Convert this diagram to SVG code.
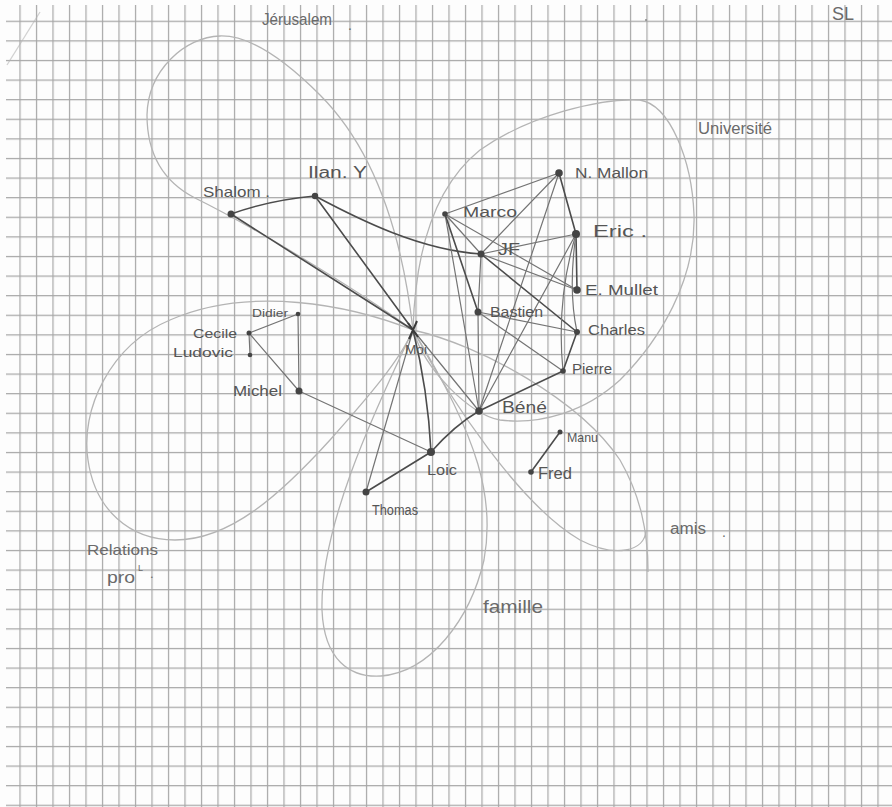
<svg xmlns="http://www.w3.org/2000/svg" width="892" height="807" viewBox="0 0 892 807">
<defs>
<pattern id="grid" patternUnits="userSpaceOnUse" x="2.9" y="1.1" width="16.5" height="19.6">
<path d="M0.6,0 V19.6 M0,0.6 H16.5" fill="none" stroke="#a6a6a6" stroke-width="1.2"/>
</pattern>
<style>
.loop{fill:none;stroke:#b4b4b4;stroke-width:1.3}
.e{fill:none;stroke:#4c4c4c;stroke-width:1.6;stroke-linecap:round}
.e2{fill:none;stroke:#747474;stroke-width:1.2;stroke-linecap:round}
.dot{fill:#444}
.t{font-family:"Liberation Sans","DejaVu Sans",sans-serif;fill:#555;font-weight:normal}
.g{font-family:"Liberation Sans","DejaVu Sans",sans-serif;fill:#6a6a6a}
</style>
</defs>
<rect width="892" height="807" fill="#fdfdfd"/>
<rect x="6" y="5" width="886" height="802" fill="url(#grid)"/>

<g id="groups">
<path class="loop" d="M413,330 C405,260 385,160 320,95 C285,60 250,35 220,36 C185,37 148,70 147,115 C147,150 160,180 195,198 C250,225 350,285 413,330"/>
<path class="loop" d="M413,330 C415,260 430,190 480,150 C530,115 600,98 640,100 C670,105 692,160 694,215 C696,280 660,340 620,380 C585,412 540,425 500,420 C470,415 425,370 413,330"/>
<path class="loop" d="M413,330 C480,345 580,400 620,460 C640,495 648,530 648,572"/>
<path class="loop" d="M413,330 C450,400 520,505 580,540 C615,558 645,552 646,530"/>
<path class="loop" d="M413,330 C370,420 320,530 322,610 C324,660 350,678 381,676 C430,672 470,620 484,560 C495,500 480,440 413,330"/>
<path class="loop" d="M413,330 C350,305 250,285 170,320 C110,345 80,410 88,460 C95,510 130,540 175,540 C230,540 280,495 330,440 C370,395 400,360 413,330"/>
<path class="loop" d="M7,65 L40,12" stroke-opacity="0.6"/>
</g>

<g id="connectors">
<path class="e" d="M231,214 Q270,200 315,196"/>
<path class="e" d="M231,214 L413,330"/>
<path class="e" d="M315,196 L413,330"/>
<path class="e" d="M315,196 C360,220 420,250 481,254"/>
<path class="e" d="M413,330 Q428,390 431,452"/>
<path class="e2" d="M413,330 L366,492"/>
<path class="e2" d="M413,330 L479,411"/>
<path class="e" d="M431,452 L366,492"/>
<path class="e" d="M431,452 Q455,425 479,411"/>
<path class="e2" d="M299,391 L431,452"/>
<path class="e2" d="M249,333 L298,314"/>
<path class="e2" d="M249,333 L299,391"/>
<path class="e2" d="M298,314 L299,391"/>
<path class="e2" d="M249,333 L250,355"/>
<path class="e" d="M479,411 L563,371"/>
<path class="e2" d="M478,312 L479,411"/>
<path class="e2" d="M481,254 L478,312"/>
<path class="e2" d="M445,214 L479,411"/>
<path class="e" d="M445,214 L478,312"/>
<path class="e2" d="M445,214 L481,254"/>
<path class="e2" d="M445,214 L559,173"/>
<path class="e2" d="M445,214 L577,290"/>
<path class="e2" d="M481,254 L559,173"/>
<path class="e2" d="M481,254 L576,234"/>
<path class="e2" d="M481,254 L577,290"/>
<path class="e" d="M481,254 L577,332"/>
<path class="e" d="M559,173 L576,234"/>
<path class="e2" d="M559,173 L479,411"/>
<path class="e2" d="M576,234 L479,411"/>
<path class="e" d="M576,234 L577,290"/>
<path class="e2" d="M576,234 Q568,290 577,332"/>
<path class="e2" d="M576,234 Q556,300 563,371"/>
<path class="e" d="M577,332 L563,371"/>
<path class="e2" d="M478,312 L577,332"/>
<path class="e2" d="M478,312 L563,371"/>
<path class="e" d="M560,432 L531,472"/>
</g>

<g id="moi"><path d="M408,323 L418,337 M417,321 L409,339" fill="none" stroke="#3a3a3a" stroke-width="2"/><text class="t" x="405" y="354" font-size="13" textLength="22" lengthAdjust="spacingAndGlyphs">Moi</text></g>
<g id="shalom"><circle class="dot" cx="231" cy="214" r="3.5"/><text class="t" x="203" y="197" font-size="15" textLength="67" lengthAdjust="spacingAndGlyphs">Shalom .</text></g>
<g id="ilan"><circle class="dot" cx="315" cy="196" r="3.2"/><text class="t" x="308" y="178" font-size="16" textLength="59" lengthAdjust="spacingAndGlyphs">Ilan. Y</text></g>
<g id="didier"><circle class="dot" cx="298" cy="314" r="2.3"/><text class="t" x="252" y="317" font-size="11" textLength="36" lengthAdjust="spacingAndGlyphs">Didier</text></g>
<g id="cecile"><circle class="dot" cx="249" cy="333" r="2.5"/><text class="t" x="193" y="338" font-size="13" textLength="44" lengthAdjust="spacingAndGlyphs">Cecile</text></g>
<g id="ludovic"><circle class="dot" cx="250" cy="355" r="2.3"/><text class="t" x="173" y="357" font-size="13" textLength="60" lengthAdjust="spacingAndGlyphs">Ludovic</text></g>
<g id="michel"><circle class="dot" cx="299" cy="391" r="3.5"/><text class="t" x="233" y="396" font-size="14" textLength="49" lengthAdjust="spacingAndGlyphs">Michel</text></g>
<g id="loic"><circle class="dot" cx="431" cy="452" r="4"/><text class="t" x="427" y="475" font-size="14" textLength="30" lengthAdjust="spacingAndGlyphs">Loic</text></g>
<g id="thomas"><circle class="dot" cx="366" cy="492" r="3.5"/><text class="t" x="372" y="515" font-size="14" textLength="46" lengthAdjust="spacingAndGlyphs">Thomas</text></g>
<g id="bene"><circle class="dot" cx="479" cy="411" r="3.8"/><text class="t" x="502" y="413" font-size="16" textLength="45" lengthAdjust="spacingAndGlyphs">Béné</text></g>
<g id="manu"><circle class="dot" cx="560" cy="432" r="2.5"/><text class="t" x="567" y="442" font-size="12" textLength="31" lengthAdjust="spacingAndGlyphs">Manu</text></g>
<g id="fred"><circle class="dot" cx="531" cy="472" r="2.8"/><text class="t" x="538" y="479" font-size="17" textLength="34" lengthAdjust="spacingAndGlyphs">Fred</text></g>
<g id="pierre"><circle class="dot" cx="563" cy="371" r="2.8"/><text class="t" x="572" y="374" font-size="15" textLength="40" lengthAdjust="spacingAndGlyphs">Pierre</text></g>
<g id="charles"><circle class="dot" cx="577" cy="332" r="3"/><text class="t" x="588" y="335" font-size="15" textLength="57" lengthAdjust="spacingAndGlyphs">Charles</text></g>
<g id="emullet"><circle class="dot" cx="577" cy="290" r="3.8"/><text class="t" x="585" y="295" font-size="15" textLength="73" lengthAdjust="spacingAndGlyphs">E. Mullet</text></g>
<g id="eric"><circle class="dot" cx="576" cy="234" r="4"/><text class="t" x="593" y="237" font-size="16" textLength="54" lengthAdjust="spacingAndGlyphs">Eric  .</text></g>
<g id="nmallon"><circle class="dot" cx="559" cy="173" r="3.8"/><text class="t" x="575" y="178" font-size="14" textLength="73" lengthAdjust="spacingAndGlyphs">N. Mallon</text></g>
<g id="marco"><circle class="dot" cx="445" cy="214" r="2.8"/><text class="t" x="463" y="217" font-size="14" textLength="54" lengthAdjust="spacingAndGlyphs">Marco</text></g>
<g id="jf"><circle class="dot" cx="481" cy="254" r="3.5"/><text class="t" x="498" y="255" font-size="16" textLength="22" lengthAdjust="spacingAndGlyphs">JF</text></g>
<g id="bastien"><circle class="dot" cx="478" cy="312" r="3.5"/><text class="t" x="490" y="317" font-size="14" textLength="53" lengthAdjust="spacingAndGlyphs">Bastien</text></g>

<g id="labels">
<text class="g" x="262" y="25" font-size="17" textLength="70" lengthAdjust="spacingAndGlyphs">Jérusalem</text>
<text class="g" x="348" y="30" font-size="14">.</text>
<text class="g" x="698" y="134" font-size="16" textLength="74" lengthAdjust="spacingAndGlyphs">Université</text>
<text class="g" x="670" y="534" font-size="16" textLength="36" lengthAdjust="spacingAndGlyphs">amis</text>
<text class="g" x="722" y="537" font-size="14">.</text>
<text class="g" x="483" y="613" font-size="19" textLength="60" lengthAdjust="spacingAndGlyphs">famille</text>
<text class="g" x="87" y="555" font-size="15" textLength="71" lengthAdjust="spacingAndGlyphs">Relations</text>
<text class="g" x="107" y="583" font-size="16" textLength="28" lengthAdjust="spacingAndGlyphs">pro</text>
<text class="g" x="138" y="571" font-size="9">L</text>
<text class="g" x="150" y="578" font-size="13">.</text>
<text class="g" x="832" y="20" font-size="18" fill="#555">SL</text>
<circle cx="646" cy="20" r="1" fill="#888"/>
</g>
</svg>
